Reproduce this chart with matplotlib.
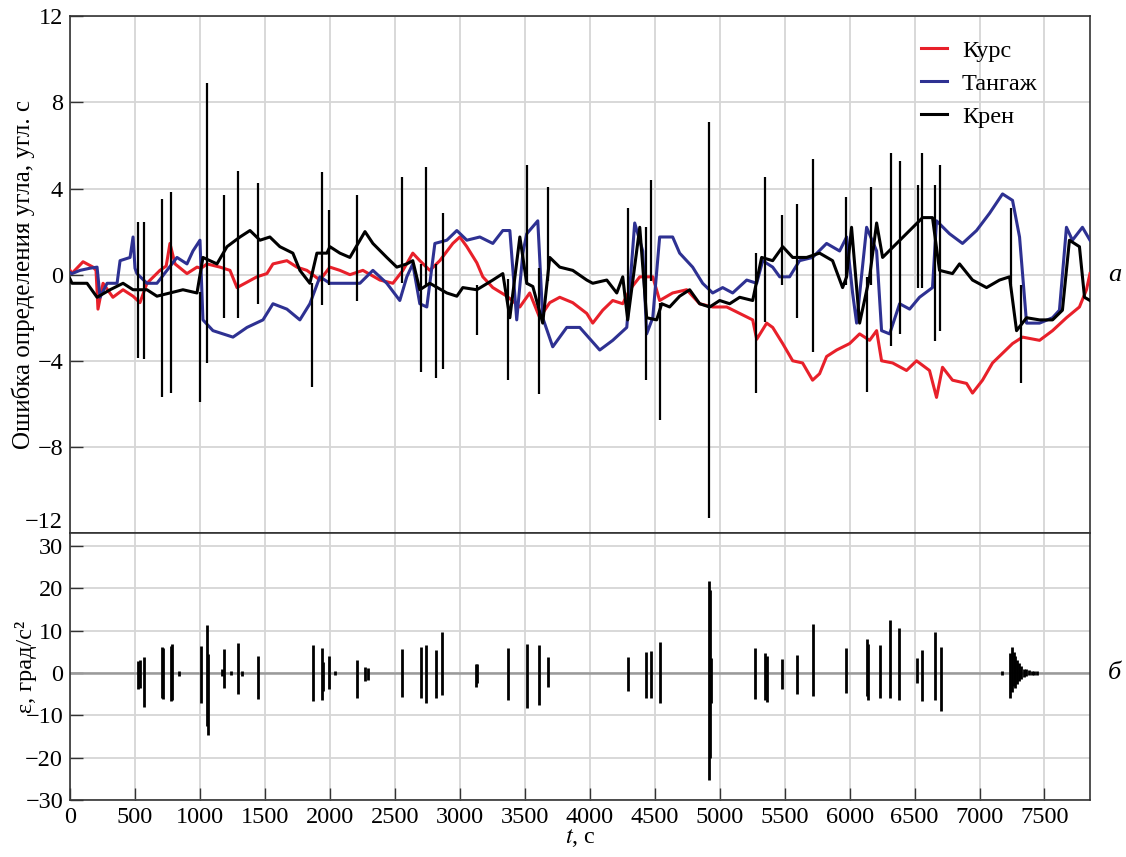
import numpy as np
import matplotlib
matplotlib.use("Agg")
import matplotlib.pyplot as plt

plt.rcParams['font.family'] = ['Liberation Serif', 'DejaVu Serif']
plt.rcParams['mathtext.fontset'] = 'stix'
plt.rcParams['font.size'] = 17.5

# Курс (t, error)
kurs = [(0, 0.2), (15, 0.06), (100, 0.6), (177, 0.35), (200, 0.2), (215, -1.6), (254, -0.4),
        (330, -1.05), (408, -0.7), (485, -1.0), (538, -1.3), (592, -0.4), (692, 0.2), (740, 0.4),
        (769, 1.45), (808, 0.5), (900, 0.05), (977, 0.35), (1010, 0.3), (1054, 0.5), (1154, 0.35),
        (1231, 0.2), (1285, -0.6), (1362, -0.35), (1438, -0.1), (1515, 0.05), (1562, 0.5),
        (1669, 0.65), (1746, 0.35), (1823, 0.2), (1923, -0.25), (2000, 0.35), (2077, 0.2),
        (2154, 0.0), (2254, 0.2), (2385, -0.25), (2485, -0.4), (2562, 0.2), (2638, 1.0),
        (2692, 0.65), (2769, 0.2), (2846, 0.65), (2946, 1.45), (3000, 1.75), (3054, 1.3),
        (3131, 0.55), (3177, -0.1), (3254, -0.6), (3362, -1.0), (3462, -1.5), (3538, -0.85),
        (3615, -2.0), (3692, -1.3), (3769, -1.05), (3869, -1.3), (3977, -1.8), (4023, -2.25),
        (4100, -1.65), (4177, -1.2), (4254, -1.35), (4308, -0.7), (4385, -0.1), (4485, -0.1),
        (4538, -1.2), (4638, -0.85), (4746, -0.7), (4846, -1.35), (4946, -1.5), (5054, -1.5),
        (5154, -1.8), (5254, -2.1), (5285, -3.0), (5362, -2.25), (5408, -2.45), (5485, -3.2),
        (5562, -4.0), (5638, -4.1), (5715, -4.9), (5769, -4.6), (5823, -3.8), (5900, -3.5),
        (6000, -3.2), (6077, -2.75), (6154, -3.05), (6208, -2.6), (6246, -4.0), (6331, -4.1),
        (6438, -4.45), (6515, -4.0), (6615, -4.45), (6669, -5.7), (6715, -4.3), (6792, -4.9),
        (6900, -5.05), (6946, -5.5), (7023, -4.9), (7100, -4.1), (7177, -3.65), (7254, -3.2),
        (7331, -2.9), (7462, -3.05), (7562, -2.6), (7669, -2.0), (7769, -1.5), (7823, -0.7),
        (7850, 0.05)]

# Тангаж
tangazh = [(0, 0.1), (15, 0.05), (77, 0.2), (154, 0.3), (208, 0.35), (231, -1.05), (285, -0.4),
           (362, -0.4), (385, 0.65), (462, 0.8), (485, 1.75), (500, 0.3), (515, 0.05), (592, -0.4),
           (669, -0.4), (746, 0.2), (823, 0.8), (900, 0.5), (946, 1.1), (1000, 1.6), (1023, -2.1),
           (1100, -2.6), (1254, -2.9), (1362, -2.45), (1485, -2.1), (1562, -1.35), (1669, -1.6),
           (1769, -2.1), (1846, -1.35), (1923, -0.1), (2000, -0.4), (2131, -0.4), (2231, -0.4),
           (2331, 0.2), (2438, -0.4), (2538, -1.2), (2592, -0.1), (2638, 0.5), (2692, -1.35),
           (2746, -1.5), (2808, 1.45), (2900, 1.6), (2977, 2.05), (3054, 1.6), (3154, 1.75),
           (3254, 1.45), (3331, 2.05), (3385, 2.05), (3438, -2.1), (3485, 1.0), (3515, 1.9),
           (3600, 2.5), (3638, -2.0), (3715, -3.35), (3823, -2.45), (3923, -2.45), (4077, -3.5),
           (4177, -3.05), (4285, -2.45), (4346, 2.4), (4408, 1.1), (4438, -2.75), (4485, -2.0),
           (4538, 1.75), (4638, 1.75), (4692, 1.0), (4792, 0.35), (4869, -0.4), (4946, -0.85),
           (5023, -0.6), (5100, -0.85), (5208, -0.25), (5285, -0.4), (5331, 0.65), (5408, 0.35),
           (5462, -0.1), (5538, -0.1), (5615, 0.65), (5715, 0.8), (5823, 1.45), (5923, 1.1),
           (5977, 1.75), (6023, -0.85), (6054, -2.25), (6131, 2.2), (6208, 1.1), (6246, -2.6),
           (6308, -2.75), (6385, -1.35), (6462, -1.6), (6538, -1.05), (6638, -0.6), (6669, 2.5),
           (6769, 1.9), (6869, 1.45), (6977, 2.05), (7077, 2.85), (7177, 3.75), (7254, 3.45),
           (7308, 1.75), (7362, -2.25), (7462, -2.25), (7562, -2.0), (7615, -1.65), (7669, 2.2),
           (7715, 1.6), (7792, 2.2), (7850, 1.6)]

# Крен (slow part)
kren = [(0, -0.2), (15, -0.4), (131, -0.4), (208, -1.05), (308, -0.7), (408, -0.4), (485, -0.7),
        (592, -0.7), (669, -1.0), (769, -0.85), (869, -0.7), (977, -0.85), (1023, 0.8), (1131, 0.5),
        (1208, 1.3), (1308, 1.75), (1385, 2.05), (1462, 1.6), (1538, 1.75), (1615, 1.3), (1715, 1.0),
        (1769, 0.2), (1846, -0.4), (1900, 1.0), (1977, 1.0), (2000, 1.3), (2077, 1.0), (2154, 0.8),
        (2270, 2.0), (2331, 1.45), (2438, 0.8), (2515, 0.35), (2592, 0.5), (2638, 0.65),
        (2692, -0.7), (2769, -0.4), (2900, -0.85), (2977, -1.0), (3023, -0.6), (3131, -0.7),
        (3254, -0.25), (3331, 0.05), (3385, -2.0), (3462, 1.75), (3515, -0.4), (3562, -0.55),
        (3638, -2.25), (3692, 0.8), (3769, 0.35), (3869, 0.2), (3977, -0.25), (4023, -0.4),
        (4131, -0.25), (4208, -0.85), (4254, -0.1), (4292, -2.1), (4385, 2.2), (4438, -2.0),
        (4515, -2.1), (4554, -1.35), (4615, -1.5), (4692, -1.0), (4769, -0.7), (4846, -1.35),
        (4923, -1.5), (5000, -1.2), (5077, -1.35), (5154, -1.05), (5254, -1.2), (5323, 0.8),
        (5408, 0.65), (5485, 1.3), (5562, 0.8), (5669, 0.8), (5769, 1.0), (5869, 0.65),
        (5946, -0.6), (5977, -0.1), (6015, 2.2), (6077, -2.25), (6154, -0.1), (6208, 2.4),
        (6254, 0.8), (6362, 1.45), (6462, 2.05), (6562, 2.65), (6638, 2.65), (6692, 0.2),
        (6792, 0.05), (6846, 0.5), (6946, -0.25), (7054, -0.6), (7154, -0.25), (7231, -0.1),
        (7285, -2.6), (7362, -2.0), (7462, -2.1), (7562, -2.1), (7638, -1.65), (7692, 1.6),
        (7769, 1.3), (7808, -1.05), (7850, -1.2)]

# Крен spikes: (t, top, bottom)
kren_spikes = [(520, 2.45, -3.85), (570, 2.45, -3.9), (708, 3.5, -5.7), (780, 3.85, -5.5),
               (1000, -0.8, -5.9), (1054, 8.9, -4.1), (1185, 3.7, -2.0), (1292, 4.8, -2.0),
               (1446, 4.25, -1.35), (1862, -0.4, -5.2), (1942, 4.75, -1.4), (1992, 3.0, -0.5),
               (2208, 3.7, -1.2), (2554, 4.55, -0.4), (2700, 0.5, -4.5), (2738, 5.0, -0.5),
               (2815, 0.5, -4.8), (2869, 2.85, -4.4), (3131, -0.5, -2.8), (3369, -0.2, -4.9),
               (3515, 5.1, -0.5), (3608, 0.3, -5.55), (3677, 4.05, -0.3), (4292, 3.1, -2.1),
               (4431, 2.2, -4.9), (4469, 4.4, -0.3), (4538, -1.3, -6.75), (4915, 7.1, -11.3),
               (5277, 1.0, -5.5), (5346, 4.55, -2.2), (5477, 2.75, -0.5), (5592, 3.3, -2.0),
               (5715, 5.35, -3.6), (5969, 3.6, -0.5), (6131, -0.1, -5.45), (6162, 4.05, -0.5),
               (6315, 5.65, -3.3), (6385, 5.3, -2.75), (6523, 4.15, -0.6), (6554, 5.65, -0.6),
               (6654, 4.15, -3.1), (6692, 5.1, -2.6), (7246, 3.1, -0.5), (7323, -0.5, -5.05)]

# ε bursts: (t, top, bottom)
eps = [(520, 2.9, -3.8), (535, 3.0, -3.5), (570, 3.8, -8.0), (708, 6.0, -6.0), (715, 5.8, -6.2),
       (777, 6.4, -6.7), (785, 6.9, -6.5), (838, 0.5, -0.8), (1008, 6.4, -7.0), (1054, 11.3, -12.5),
       (1062, 4.5, -14.6), (1170, 0.8, -0.8), (1185, 5.7, -3.5), (1240, 0.5, -0.5), (1292, 7.1, -4.9),
       (1320, 0.4, -0.8), (1446, 3.9, -6.2), (1869, 6.6, -6.7), (1938, 5.8, -6.4), (1948, 2.5, -4.3),
       (1992, 3.9, -3.7), (2040, 0.4, -0.5), (2205, 3.0, -6.0), (2270, 1.4, -1.8), (2290, 1.2, -1.6),
       (2554, 5.6, -5.6), (2700, 6.0, -6.0), (2738, 6.6, -7.1), (2815, 5.5, -6.0), (2862, 9.6, -5.2),
       (3125, 2.0, -3.4), (3135, 2.2, -2.5), (3369, 5.8, -6.3), (3515, 6.9, -8.2), (3608, 6.5, -7.6),
       (3677, 3.8, -3.3), (4292, 3.8, -4.3), (4431, 4.9, -5.9), (4469, 5.1, -5.9), (4538, 7.3, -7.0),
       (4915, 21.7, -25.3), (4925, 19.5, -20.0), (4935, 3.5, -7.0), (5272, 5.8, -6.2),
       (5350, 4.7, -6.5), (5365, 4.0, -6.8), (5477, 3.2, -3.9), (5592, 4.2, -5.0), (5715, 11.6, -5.5),
       (5969, 5.8, -4.8), (6131, 7.9, -5.4), (6145, 6.9, -6.5), (6231, 6.6, -5.9), (6308, 12.4, -6.0),
       (6377, 10.6, -6.3), (6520, 3.6, -2.5), (6554, 5.3, -6.6), (6654, 9.7, -6.3), (6700, 6.1, -8.9),
       (7170, 0.5, -0.5), (7235, 4.8, -6.0), (7250, 6.0, -4.5), (7262, 5.0, -3.2), (7275, 4.0, -3.5),
       (7290, 3.0, -2.6), (7305, 2.4, -2.0), (7320, 1.6, -1.5), (7340, 1.0, -1.0), (7360, 0.8, -0.8),
       (7380, 0.6, -0.6), (7400, 0.5, -0.6), (7420, 0.5, -0.5), (7440, 0.4, -0.5)]

RED = '#e8202a'
BLUE = '#2e3192'
GRID = '#d6d6d6'
SPINE = '#333333'

fig = plt.figure(figsize=(11.26, 8.57), dpi=100)
ax1 = fig.add_axes([0.0622, 0.378, 0.9058, 0.603])
ax2 = fig.add_axes([0.0622, 0.0665, 0.9058, 0.3115], sharex=ax1)

k = np.array(kurs)
tg = np.array(tangazh)
kr = np.array(kren)
sp = np.array(kren_spikes)
ep = np.array(eps)

ax1.plot(k[:, 0], k[:, 1], color=RED, lw=2.2, label='Курс', zorder=3)
ax1.plot(tg[:, 0], tg[:, 1], color=BLUE, lw=2.2, label='Тангаж', zorder=3)
ax1.plot(kr[:, 0], kr[:, 1], color='black', lw=2.2, label='Крен', zorder=4)
ax1.vlines(sp[:, 0], sp[:, 2], sp[:, 1], color='black', lw=1.6, zorder=4)

ax2.axhline(0, color='#9a9a9a', lw=1.8, zorder=2)
ax2.vlines(ep[:, 0], ep[:, 2], ep[:, 1], color='black', lw=2.0, zorder=3)

for ax in (ax1, ax2):
    ax.grid(True, color=GRID, lw=1.3)
    ax.set_axisbelow(True)
    for s in ax.spines.values():
        s.set_color(SPINE)
        s.set_linewidth(1.2)
    ax.tick_params(direction='in', length=9, width=1.0, color=SPINE, pad=5,
                   top=False, right=False, labelsize=17.5)

ax1.set_xlim(0, 7850)
ax1.set_ylim(-12, 12)
ax1.set_yticks(np.arange(-12, 13, 4))
ax1.set_xticks(np.arange(0, 7501, 500))
ax1.tick_params(axis='x', bottom=False, labelbottom=False)
ax1.get_yticklabels()[0].set_va('bottom')
ax1.set_ylabel('Ошибка определения угла, угл. с', fontsize=18)
ax1.yaxis.set_label_coords(-0.034, 0.5)
ax1.legend(loc='upper right', bbox_to_anchor=(0.97, 0.997), frameon=False,
           handlelength=1.1, handletextpad=0.6, labelspacing=0.45, fontsize=17.5)
ax1.annotate('а', xy=(1.018, 0), xycoords=('axes fraction', 'data'), va='center',
             ha='left', fontsize=19, style='italic')

ax2.set_ylim(-30, 33)
ax2.set_yticks(np.arange(-30, 31, 10))
ax2.set_ylabel('ε, град/с²', fontsize=17.5)
ax2.yaxis.set_label_coords(-0.032, 0.5)
ax2.set_xlabel('$t$, с', fontsize=17.5, labelpad=-1)
ax2.annotate('б', xy=(1.018, 0), xycoords=('axes fraction', 'data'), va='center',
             ha='left', fontsize=19, style='italic')

fig.savefig('out.png', dpi=100)
